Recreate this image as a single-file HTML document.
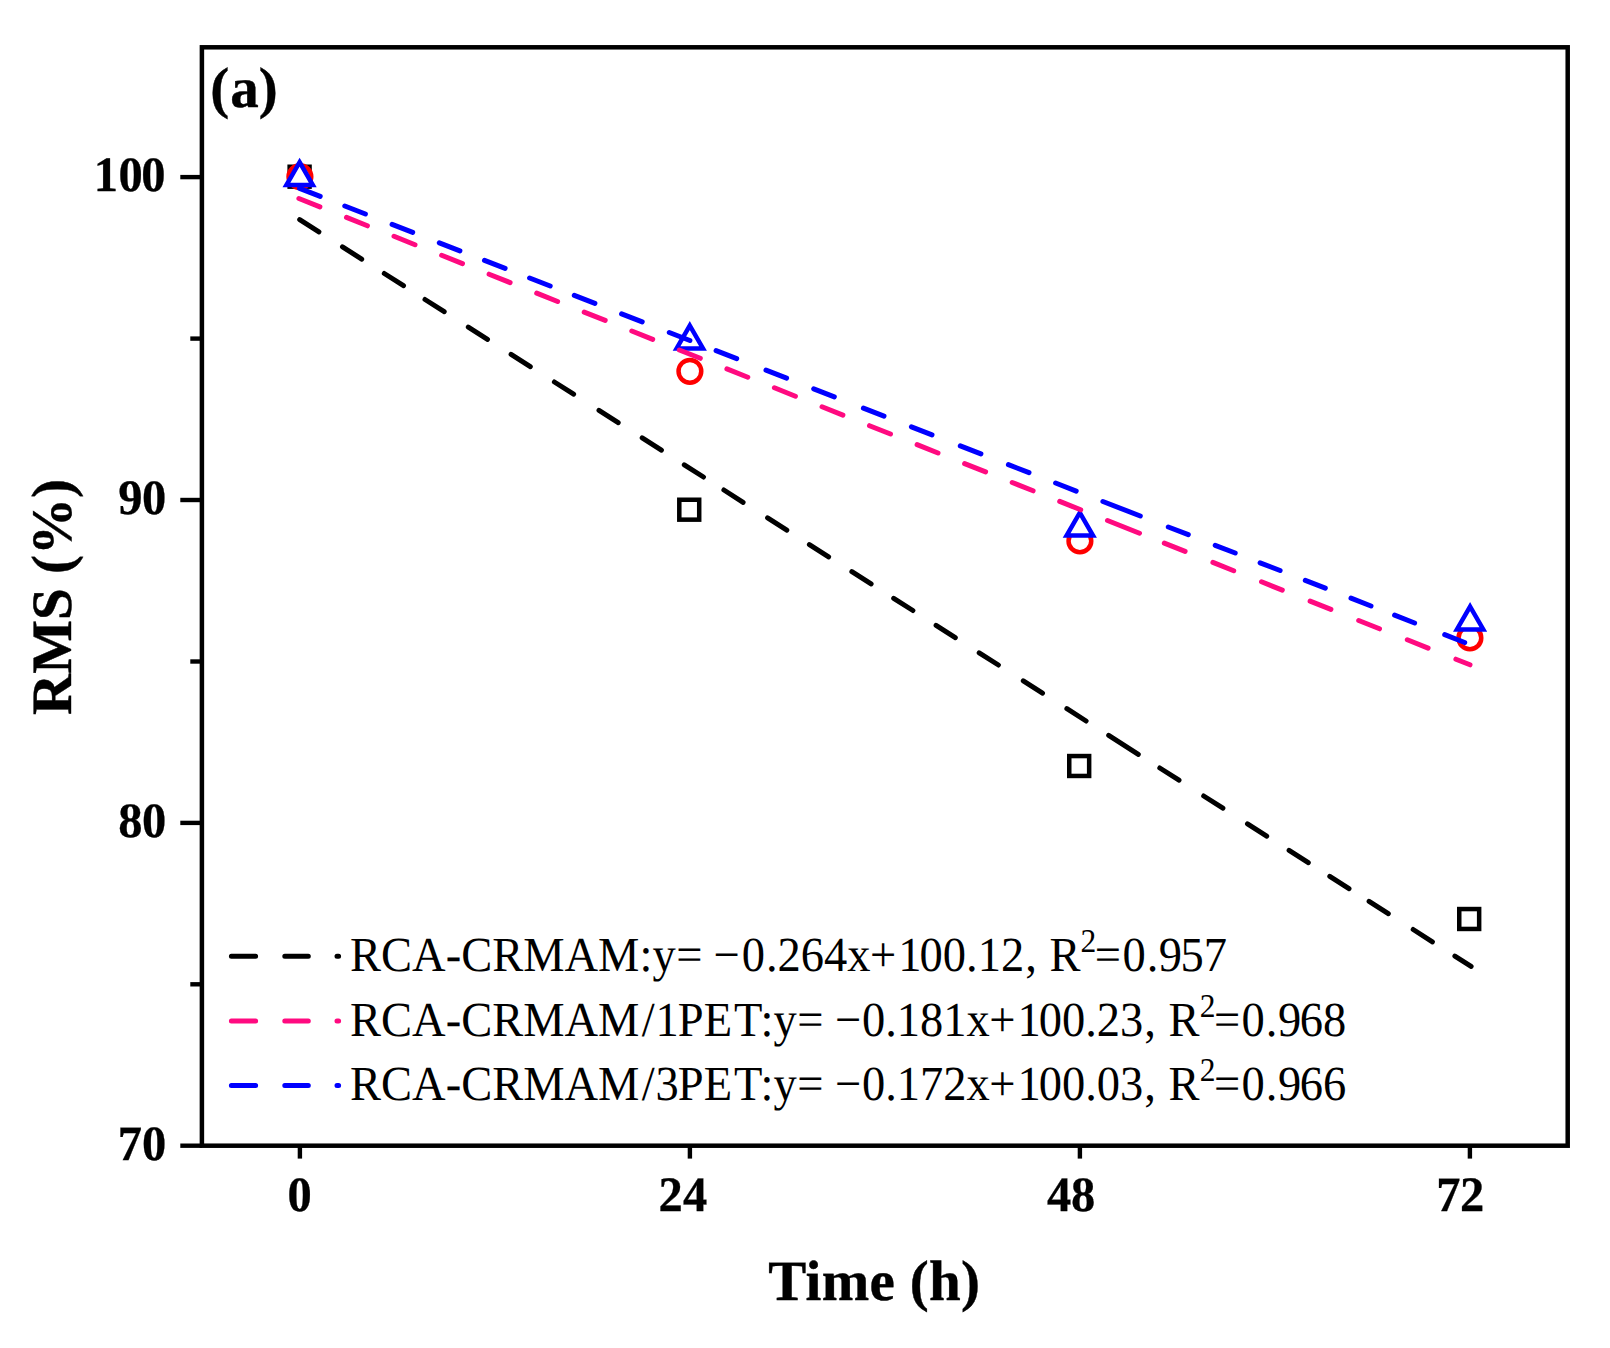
<!DOCTYPE html>
<html lang="en">
<head>
<meta charset="utf-8">
<title>RMS vs Time (a)</title>
<style>
  html, body { margin: 0; padding: 0; background: #ffffff; }
  body { width: 1610px; height: 1348px; overflow: hidden; }
  svg { display: block; }
  text { text-rendering: geometricPrecision; font-family: "Liberation Serif", "Times New Roman", Times, serif; fill: #000; }
  .b { font-weight: bold; stroke: #000; stroke-width: 0.4px; }
  .tick { font-size: 48.5px; font-weight: bold; stroke: #000; stroke-width: 0.3px; }
  .title { font-size: 57px; font-weight: bold; stroke: #000; stroke-width: 0.4px; }
  .leg { font-size: 46.5px; }
  .ax { stroke: #000; stroke-width: 4.5; fill: none; }
  .fit { fill: none; stroke-width: 5; stroke-linecap: round; }
  .mk { fill: #ffffff; stroke-width: 4.5; }
</style>
</head>
<body>
<svg width="1610" height="1348" viewBox="0 0 1610 1348">
  <rect x="0" y="0" width="1610" height="1348" fill="#ffffff"/>
  <g id="chart">

  <!-- plot frame -->
  <g id="frame">
    <rect class="ax" x="201.9" y="47.3" width="1365.8" height="1098.4"/>
  </g>

  <!-- y ticks -->
  <g id="yticks" stroke="#000" stroke-width="4.4" stroke-linecap="butt">
    <line x1="180.3" y1="177.1" x2="202" y2="177.1"/>
    <line x1="180.3" y1="500" x2="202" y2="500"/>
    <line x1="180.3" y1="822.9" x2="202" y2="822.9"/>
    <line x1="180.3" y1="1145.7" x2="202" y2="1145.7"/>
    <line x1="190.3" y1="338.6" x2="202" y2="338.6"/>
    <line x1="190.3" y1="661.5" x2="202" y2="661.5"/>
    <line x1="190.3" y1="984.3" x2="202" y2="984.3"/>
  </g>

  <!-- x ticks -->
  <g id="xticks" stroke="#000" stroke-width="4.4" stroke-linecap="butt">
    <line x1="299.9" y1="1145.7" x2="299.9" y2="1158.6"/>
    <line x1="689.9" y1="1145.7" x2="689.9" y2="1158.6"/>
    <line x1="1079.9" y1="1145.7" x2="1079.9" y2="1158.6"/>
    <line x1="1469.9" y1="1145.7" x2="1469.9" y2="1158.6"/>
  </g>

  <!-- y tick labels -->
  <g id="ylabels" class="tick">
    <text transform="translate(0 191.2) scale(1 1.02)" x="93.8 118.4 141.3" y="0">100</text>
    <text transform="translate(0 514) scale(1 1.02)" x="118.3 142.1" y="0">90</text>
    <text transform="translate(0 837) scale(1 1.02)" x="118.2 142.1" y="0">80</text>
    <text transform="translate(0 1159.7) scale(1 1.02)" x="117.8 142.0" y="0">70</text>
  </g>

  <!-- x tick labels -->
  <g id="xlabels" class="tick">
    <text transform="translate(0 1211) scale(1 1.02)" x="287.6" y="0">0</text>
    <text transform="translate(0 1211) scale(1 1.02)" x="658.5 683.1" y="0">24</text>
    <text transform="translate(0 1211) scale(1 1.02)" x="1046.9 1071.1" y="0">48</text>
    <text transform="translate(0 1211) scale(1 1.02)" x="1436.2 1460.0" y="0">72</text>
  </g>

  <!-- axis titles -->
  <text class="title" text-anchor="middle" x="874.3" y="1299.6" letter-spacing="0.3">Time (h)</text>
  <text class="title" text-anchor="middle" transform="translate(71.3 597) rotate(-90)">RMS (%)</text>

  <!-- panel label -->
  <text class="b" style="font-size:57px" x="210.3 230.3 258.8" y="106.8">(a)</text>

  <!-- data markers -->
  <g id="squares" class="mk" stroke="#000000">
    <rect x="289.65" y="166.75" width="19.9" height="19.9"/>
    <rect x="679.30" y="499.75" width="19.9" height="19.9"/>
    <rect x="1069.25" y="756.05" width="19.9" height="19.9"/>
    <rect x="1459.25" y="909.05" width="19.9" height="19.9"/>
  </g>
  <g id="circles" class="mk" stroke="#ff0000">
    <circle cx="299.9" cy="176.7" r="11.35"/>
    <circle cx="689.9" cy="371.3" r="11.35"/>
    <circle cx="1079.9" cy="540.9" r="11.35"/>
    <circle cx="1469.9" cy="637.9" r="11.35"/>
  </g>
  <g id="triangles" class="mk" stroke="#0000ff" stroke-linejoin="miter">
    <path d="M299.6 162.2L312.8 185.1L286.4 185.1Z"/>
    <path d="M689.8 325.6L703.0 348.4L676.6 348.4Z"/>
    <path d="M1079.8 512.7L1093.0 535.5L1066.6 535.5Z"/>
    <path d="M1470.1 606.6L1483.3 629.5L1456.9 629.5Z"/>
  </g>



  <!-- fitted dashed lines -->
  <g id="fits">
    <path class="fit" stroke="#000000" d="M299.7 219.6L318.9 231.8M342.5 246.9L361.7 259.1M384.3 273.5L403.5 285.7M425.0 299.5L444.2 311.7M468.3 327.1L487.5 339.3M511.1 354.4L530.3 366.6M554.4 382.0L573.6 394.2M599.0 410.4L618.2 422.6M642.2 437.9L661.4 450.2M684.3 464.8L703.5 477.0M723.9 490.0L743.1 502.3M767.6 517.9L786.8 530.1M809.4 544.6L828.6 556.8M851.9 571.7L871.1 583.9M893.7 598.3L912.9 610.5M936.1 625.3L955.3 637.6M979.2 652.8L998.4 665.0M1023.3 680.9L1042.5 693.2M1066.9 708.7L1086.1 721.0M1108.7 735.4L1138.3 754.3M1159.8 768.0L1179.0 780.2M1203.7 796.0L1222.9 808.2M1247.5 823.9L1266.7 836.1M1289.1 850.4L1308.3 862.6M1329.8 876.4L1349.0 888.6M1369.1 901.4L1388.3 913.7M1413.2 929.5L1432.4 941.8M1454.9 956.1L1471.1 966.4"/>
    <path class="fit" stroke="#ff0a80" d="M298.9 198.5L319.9 206.8M346.5 217.4L367.4 225.8M394.0 236.3L415.0 244.7M441.6 255.3L462.5 263.6M489.1 274.2L510.1 282.6M536.7 293.1L557.6 301.5M584.2 312.1L605.2 320.4M631.8 331.0L652.7 339.4M679.3 350.0L700.3 358.3M726.9 368.9L747.8 377.2M774.4 387.8L795.4 396.2M822.0 406.8L842.9 415.1M869.5 425.7L890.5 434.0M917.1 444.6L938.0 453.0M964.6 463.6L985.6 471.9M1012.2 482.5L1033.1 490.8M1059.7 501.4L1080.7 509.8M1107.5 520.5L1139.5 533.2M1164.3 543.1L1185.1 551.3M1212.9 562.4L1233.7 570.7M1261.5 581.8L1282.3 590.1M1310.1 601.1L1330.9 609.4M1358.7 620.5L1379.5 628.8M1407.3 639.8L1428.1 648.1M1455.9 659.2L1470.0 664.8"/>
    <path class="fit" stroke="#0000ff" d="M299.6 188.4L320.2 196.4M344.8 206.0L365.4 214.0M392.1 224.4L412.7 232.4M439.3 242.8L459.9 250.8M484.5 260.4L505.1 268.4M529.6 278.0L550.2 286.0M574.3 295.4L594.9 303.4M621.6 313.9L642.2 321.9M669.3 332.5L689.9 340.5M716.1 350.7L736.7 358.7M766.0 370.2L786.6 378.2M813.7 388.8L834.3 396.8M863.4 408.1L884.0 416.1M911.4 426.8L932.0 434.8M960.3 445.9L980.9 453.9M1008.4 464.6L1029.0 472.7M1055.6 483.0L1076.2 491.1M1102.9 501.5L1140.3 516.0M1168.3 527.0L1188.3 534.7M1215.2 545.3L1235.2 553.0M1260.1 562.8L1280.1 570.5M1305.3 580.4L1325.3 588.2M1351.0 598.2L1371.0 606.0M1394.6 615.2L1414.6 623.0M1444.7 634.7L1464.7 642.5"/>
  </g>

  <!-- legend -->
  <g id="legend">
    <path class="fit" stroke="#000000" d="M231.4 956.2H255.6M284.8 956.2H308.3M337 956.2H338.6"/>
    <path class="fit" stroke="#ff0a80" d="M231.4 1020.9H255.6M284.8 1020.9H308.3M337 1020.9H338.6"/>
    <path class="fit" stroke="#0000ff" d="M231.4 1085.5H255.6M284.8 1085.5H308.3M337 1085.5H338.6"/>
    <text class="leg" transform="translate(350 970.9) scale(1 1.055)" dx="0 0 0 0 0 0 0 0 0 0 0 0.5 0 -0.5 2 1 0 0 0 0 -0.5 2 -2 0 0 0 0 1 0 1">RCA-CRMAM:y= −0.264x+100.12, R<tspan dy="-17.9" font-size="31.5">2</tspan><tspan dy="17.9" dx="-1.5 1.5 1 0.5 -1.5 0">=0.957</tspan></text>
    <text class="leg" transform="translate(350 1035.5) scale(1 1.055)" dx="0 0 0 0 0 0 0 0 0 2.2 1 -1 0 1.8 0.5 0 0.5 0 0 0.6 0 0 0 0 0 -0.5 2 -2 0 0 0 0 1 0 1">RCA-CRMAM/1PET:y= −0.181x+100.23, R<tspan dy="-17.9" font-size="31.5">2</tspan><tspan dy="17.9" dx="-1.5 1.5 1 0.5 -1.5 0">=0.968</tspan></text>
    <text class="leg" transform="translate(350 1100.1) scale(1 1.055)" dx="0 0 0 0 0 0 0 0 0 2.2 1 -1 0 1.8 0.5 0 0.5 0 0 0.6 0 0 0 0 0 -0.5 2 -2 0 0 0 0 1 0 1">RCA-CRMAM/3PET:y= −0.172x+100.03, R<tspan dy="-17.9" font-size="31.5">2</tspan><tspan dy="17.9" dx="-1.5 1.5 1 0.5 -1.5 0">=0.966</tspan></text>
  </g>
  </g>
</svg>
</body>
</html>
